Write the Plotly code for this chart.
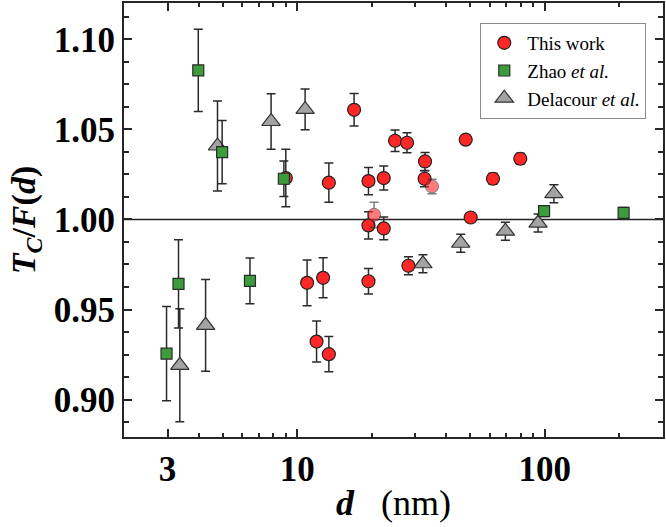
import plotly.graph_objects as go

# ---- data ----
this_d = [9.0, 10.97, 11.98, 12.73, 13.43, 13.43, 16.98, 19.41, 19.41, 19.41,
          22.37, 22.37, 24.85, 27.78, 28.14, 32.83, 32.7, 47.93, 50.2, 61.76, 79.6]
this_v = [1.0230, 0.9648, 0.9322, 0.9676, 1.0204, 0.9252, 1.0609, 1.0213, 0.9967, 0.9657,
          1.0230, 0.9950, 1.0437, 1.0426, 0.9743, 1.0322, 1.0226, 1.0443, 1.0011, 1.0226, 1.0337]
this_e = [0.016, 0.0127, 0.0114, 0.0111, 0.0109, 0.0098, 0.009, 0.0076, 0.0076, 0.0071,
          0.0067, 0.0063, 0.006, 0.0055, 0.005, 0.005, 0.0045, 0.002, 0.002, 0.003, 0.003]

this_faint_d = [20.45, 35.04]
this_faint_v = [1.0026, 1.0183]
this_faint_e = [0.007, 0.004]

zhao_d = [2.97, 3.32, 3.99, 4.98, 6.45, 8.84, 99.3, 208.0]
zhao_v = [0.9255, 0.9642, 1.0828, 1.0374, 0.9659, 1.0226, 1.0046, 1.0037]
zhao_e = [0.0262, 0.0245, 0.0228, 0.0176, 0.0127, 0.0099, 0.003, 0.003]

dela_d = [3.36, 4.27, 4.77, 7.85, 10.77, 32.2, 45.76, 69.3, 93.9, 108.8]
dela_v = [0.9190, 0.9412, 1.0408, 1.0544, 1.0611, 0.9754, 0.9868, 0.9935, 0.9980, 1.0143]
dela_e = [0.0314, 0.0255, 0.025, 0.0154, 0.0113, 0.005, 0.005, 0.005, 0.005, 0.005]

REF_LINE = 1.0
x_major = [3, 10, 100]
x_major_text = ["3", "10", "100"]
x_minor = [4, 5, 6, 7, 8, 9, 20, 30, 40, 50, 60, 70, 80, 90, 200]

FONT = "Liberation Serif"
err_style = dict(type="data", thickness=1.5, width=4.5, color="#2a2a2a")

fig = go.Figure()

fig.add_trace(go.Scatter(
    x=dela_d, y=dela_v, mode="markers", name="Delacour <i>et al.</i>",
    error_y=dict(array=dela_e, **err_style), legendrank=3,
    marker=dict(symbol="triangle-up", size=16, color="#a3a3a3",
                line=dict(color="#333333", width=1.2))))

fig.add_trace(go.Scatter(
    x=this_d, y=this_v, mode="markers", name="This work",
    error_y=dict(array=this_e, **err_style), legendrank=1,
    marker=dict(symbol="circle", size=13, color="#ff2626",
                line=dict(color="#222222", width=1.2))))

fig.add_trace(go.Scatter(
    x=this_faint_d, y=this_faint_v, mode="markers", showlegend=False,
    error_y=dict(array=this_faint_e, **err_style), opacity=0.6,
    marker=dict(symbol="circle", size=13, color="#ff2626",
                line=dict(color="#222222", width=1.0))))

fig.add_trace(go.Scatter(
    x=zhao_d, y=zhao_v, mode="markers", name="Zhao <i>et al.</i>",
    error_y=dict(array=zhao_e, **err_style), legendrank=2,
    marker=dict(symbol="square", size=11, color="#3c9c3c",
                line=dict(color="#2a2a2a", width=1.2))))

fig.add_shape(type="line", xref="paper", x0=0, x1=1, yref="y", y0=REF_LINE, y1=REF_LINE,
              line=dict(color="#222222", width=1.5), layer="below")

axis_common = dict(showline=True, linecolor="#262626", linewidth=2, mirror="allticks",
                   ticks="inside", tickcolor="#262626", tickwidth=1.5, ticklen=8,
                   showgrid=False, zeroline=False,
                   tickfont=dict(family=FONT, size=35, color="black", weight="bold"))

fig.update_xaxes(type="log", range=[0.30103, 2.4771],
                 tickmode="array", tickvals=x_major, ticktext=x_major_text,
                 minor=dict(tickmode="array", tickvals=x_minor, ticks="inside",
                            ticklen=4, tickwidth=1.5, tickcolor="#262626", showgrid=False),
                 title=dict(text="<b><i>d</i></b>\u00a0\u00a0\u00a0(nm)",
                            font=dict(family=FONT, size=36, color="black"), standoff=2),
                 **axis_common)

fig.update_yaxes(range=[0.8792, 1.1202], tickmode="linear", tick0=0.9, dtick=0.05,
                 tickformat=".2f",
                 minor=dict(dtick=0.0125, tick0=0.9, ticks="inside", ticklen=5,
                            tickwidth=1.5, tickcolor="#262626", showgrid=False),
                 title=dict(text="<b><i>T</i><sub><i>C</i></sub>/<i>F</i>(<i>d</i>)</b>",
                            font=dict(family=FONT, size=34, color="black"), standoff=8),
                 **axis_common)

fig.update_layout(
    width=666, height=527,
    margin=dict(l=124, r=3, t=3, b=90, autoexpand=False),
    paper_bgcolor="white", plot_bgcolor="white",
    showlegend=True,
    legend=dict(x=0.661, y=0.954, xanchor="left", yanchor="top",
                bgcolor="white", bordercolor="#8a8a8a", borderwidth=1,
                font=dict(family=FONT, size=19, color="black"),
                tracegroupgap=0, itemwidth=36),
)

fig.write_html("out.html", config={"displayModeBar": False},
               post_script="document.body.style.margin='0';document.body.style.overflow='hidden';")
